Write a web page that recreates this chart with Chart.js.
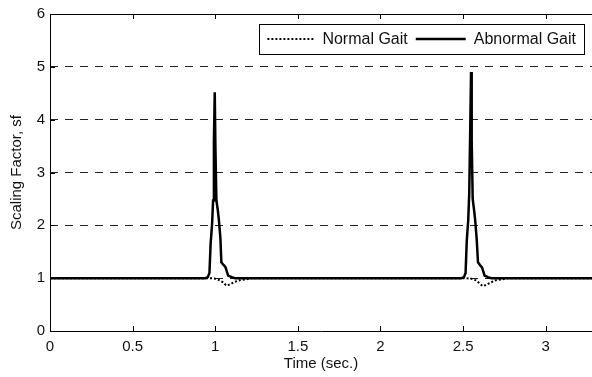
<!DOCTYPE html>
<html>
<head>
<meta charset="utf-8">
<script src="https://cdn.jsdelivr.net/npm/chart.js"></script>
<style>
  body { margin: 0; background: #fff; }
  #wrap { width: 592px; height: 377px; }
</style>
</head>
<body>
<div id="wrap"><canvas id="gaitChart" width="592" height="377"></canvas></div>
<script>
// data
const abnormalTimes = [0, 0.94, 0.955, 0.965, 0.972, 0.981, 0.987, 0.992, 0.997, 1.001, 1.007, 1.015, 1.022, 1.031, 1.037, 1.05, 1.062, 1.078, 1.1, 1.12,
                       2.49, 2.505, 2.515, 2.522, 2.531, 2.537, 2.543, 2.548, 2.552, 2.558, 2.566, 2.573, 2.582, 2.59, 2.602, 2.615, 2.63, 2.65, 2.67, 3.28];
const abnormalValues = [1, 1, 1.02, 1.1, 1.65, 2.03, 2.47, 3.6, 4.52, 3.48, 2.47, 2.3, 2.1, 1.77, 1.3, 1.25, 1.21, 1.05, 1.02, 1,
                        1, 1.02, 1.1, 1.7, 2.1, 2.6, 3.8, 4.9, 3.6, 2.5, 2.3, 2.1, 1.75, 1.3, 1.25, 1.2, 1.05, 1.02, 1, 1];
const normalTimes = [0, 0.97, 1.0, 1.027, 1.047, 1.068, 1.088, 1.118, 1.148, 1.19, 1.22,
                     2.52, 2.55, 2.577, 2.597, 2.618, 2.638, 2.668, 2.698, 2.74, 2.77, 3.28];
const normalValues = [1, 1, 0.99, 0.96, 0.92, 0.86, 0.88, 0.93, 0.96, 0.98, 1,
                      1, 0.99, 0.96, 0.91, 0.85, 0.87, 0.92, 0.96, 0.98, 1, 1];
const xTicks = [0, 0.5, 1, 1.5, 2, 2.5, 3];
const yTicks = [0, 1, 2, 3, 4, 5, 6];
const seriesLabels = ['Normal Gait', 'Abnormal Gait'];

const FONT = '"Liberation Sans", Arial, sans-serif';

function toPoints(times, values) {
    return times.map((t, i) => ({ x: t, y: values[i] }));
}

// matlab-like box: axis lines + inward ticks
const framePlugin = {
    id: 'frame',
    afterDatasetsDraw(chart) {
        const { ctx, chartArea: a, scales } = chart;
        ctx.save();
        ctx.strokeStyle = '#000';
        ctx.lineWidth = 1;
        ctx.beginPath();
        ctx.moveTo(a.left + 0.5, a.top + 0.5);
        ctx.lineTo(a.left + 0.5, a.bottom + 0.5);
        ctx.lineTo(a.right, a.bottom + 0.5);
        ctx.moveTo(a.left, a.top + 0.5);
        ctx.lineTo(a.right, a.top + 0.5);
        xTicks.forEach(v => {
            const x = Math.round(scales.x.getPixelForValue(v)) + 0.5;
            ctx.moveTo(x, a.bottom);
            ctx.lineTo(x, a.bottom - 5);
            ctx.moveTo(x, a.top);
            ctx.lineTo(x, a.top + 5);
        });
        yTicks.forEach(v => {
            const y = Math.round(scales.y.getPixelForValue(v)) + 0.5;
            ctx.moveTo(a.left, y);
            ctx.lineTo(a.left + 5, y);
        });
        ctx.stroke();
        ctx.restore();
    }
};

// legend box in the upper right, inside the axes
const legendBoxPlugin = {
    id: 'legendBox',
    afterDraw(chart) {
        const { ctx, chartArea: a } = chart;
        const ds = chart.data.datasets;
        ctx.save();
        ctx.font = '16px ' + FONT;
        const w0 = ctx.measureText(ds[0].label).width;
        const w1 = ctx.measureText(ds[1].label).width;
        const samples = [46, 50];
        const boxW = 8 + samples[0] + 9 + w0 + 8 + samples[1] + 8 + w1 + 8;
        const boxH = 30;
        const right = a.right - 8;
        const left = right - boxW;
        const top = a.top + 10;
        const midY = top + boxH / 2;

        ctx.fillStyle = '#fff';
        ctx.fillRect(left, top, boxW, boxH);
        ctx.strokeStyle = '#000';
        ctx.lineWidth = 1;
        ctx.strokeRect(Math.round(left) + 0.5, top + 0.5, Math.round(boxW), boxH);

        let x = left + 8;
        [0, 1].forEach(i => {
            ctx.beginPath();
            ctx.setLineDash(ds[i].borderDash || []);
            ctx.lineWidth = ds[i].borderWidth;
            ctx.strokeStyle = ds[i].borderColor;
            ctx.moveTo(x, midY);
            ctx.lineTo(x + samples[i], midY);
            ctx.stroke();
            ctx.setLineDash([]);
            x += samples[i] + (i === 0 ? 9 : 8);
            ctx.fillStyle = '#111';
            ctx.textBaseline = 'middle';
            ctx.fillText(ds[i].label, x, midY + 1);
            x += (i === 0 ? w0 : w1) + 8;
        });
        ctx.restore();
    }
};

const ctx = document.getElementById('gaitChart').getContext('2d');
const gaitChart = new Chart(ctx, {
    type: 'line',
    data: {
        datasets: [
            {
                label: seriesLabels[0],
                data: toPoints(normalTimes, normalValues),
                borderColor: '#000',
                borderWidth: 2,
                borderDash: [2, 2],
                pointRadius: 0,
                tension: 0
            },
            {
                label: seriesLabels[1],
                data: toPoints(abnormalTimes, abnormalValues),
                borderColor: '#000',
                borderWidth: 2.5,
                pointRadius: 0,
                tension: 0
            }
        ]
    },
    options: {
        responsive: false,
        animation: false,
        layout: { padding: { top: 13, right: 0, left: 0, bottom: 0 } },
        plugins: {
            legend: { display: false },
            tooltip: { enabled: false }
        },
        scales: {
            x: {
                type: 'linear',
                min: 0,
                max: 3.28,
                afterBuildTicks: scale => { scale.ticks = xTicks.map(v => ({ value: v })); },
                afterFit: scale => { scale.height = 46; },
                grid: { display: false, drawTicks: false },
                border: { display: false },
                ticks: {
                    padding: 7,
                    maxRotation: 0,
                    color: '#111',
                    callback: v => String(v),
                    font: { family: FONT, size: 15 }
                },
                title: {
                    display: true,
                    text: 'Time (sec.)',
                    color: '#111',
                    padding: { top: 0, bottom: 4 },
                    font: { family: FONT, size: 15 }
                }
            },
            y: {
                min: 0,
                max: 6,
                afterBuildTicks: scale => { scale.ticks = yTicks.map(v => ({ value: v })); },
                afterFit: scale => { scale.width = 50; },
                grid: {
                    drawTicks: false,
                    color: c => (c.tick && (c.tick.value === 0 || c.tick.value === 6)) ? 'rgba(0,0,0,0)' : '#222',
                    lineWidth: 1
                },
                border: { display: false, dash: [8, 7] },
                ticks: {
                    padding: 5,
                    color: '#111',
                    callback: v => String(v),
                    font: { family: FONT, size: 15 }
                },
                title: {
                    display: true,
                    text: 'Scaling Factor, sf',
                    color: '#111',
                    padding: { top: 8, bottom: 0 },
                    font: { family: FONT, size: 15 }
                }
            }
        }
    },
    plugins: [framePlugin, legendBoxPlugin]
});
</script>
</body>
</html>
